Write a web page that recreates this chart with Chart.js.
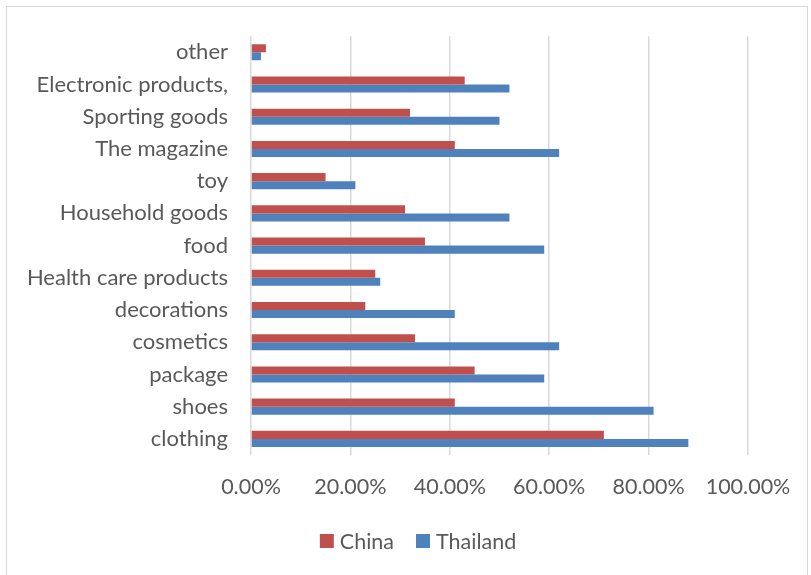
<!DOCTYPE html>
<html>
<head>
<meta charset="utf-8">
<script src="https://cdn.jsdelivr.net/npm/chart.js@4"></script>
<style>
  html, body { margin: 0; padding: 0; background: #fff; }
</style>
</head>
<body>
<canvas id="grafico" width="811" height="575"></canvas>
<script>
// categorías de arriba hacia abajo
const categorias = ["other", "Electronic products,", "Sporting goods", "The magazine", "toy",
  "Household goods", "food", "Health care products", "decorations", "cosmetics",
  "package", "shoes", "clothing"];
const china    = [3, 43, 32, 41, 15, 31, 35, 25, 23, 33, 45, 41, 71];
const thailand = [2, 52, 50, 62, 21, 52, 59, 26, 41, 62, 59, 81, 88];
const ticksX = [0, 20, 40, 60, 80, 100];

const FUENTE = "Lato, 'Open Sans', sans-serif";
const GRIS_TEXTO = "#595959";

// marco gris alrededor del gráfico
const marco = {
  id: "marco",
  beforeDraw(chart) {
    const ctx = chart.ctx;
    ctx.save();
    ctx.strokeStyle = "#d9d9d9";
    ctx.lineWidth = 1;
    ctx.strokeRect(6.5, 6.5, 801, 580);
    ctx.restore();
  }
};

// leyenda dibujada a mano, centrada bajo el eje X
const leyenda = {
  id: "leyenda",
  afterDraw(chart) {
    const ctx = chart.ctx;
    const caja = 14, sep = 6, entre = 22;
    const y = 541;
    ctx.save();
    ctx.font = "21.5px " + FUENTE;
    ctx.textBaseline = "middle";
    const items = chart.data.datasets.map(ds => ({
      texto: ds.label, color: ds.backgroundColor, ancho: ctx.measureText(ds.label).width
    }));
    const total = items.reduce((a, it) => a + caja + sep + it.ancho, 0) + entre * (items.length - 1);
    let x = 418 - total / 2;
    items.forEach(it => {
      ctx.fillStyle = it.color;
      ctx.fillRect(x, y - caja / 2, caja, caja);
      ctx.fillStyle = GRIS_TEXTO;
      ctx.fillText(it.texto, x + caja + sep, y + 1);
      x += caja + sep + it.ancho + entre;
    });
    ctx.restore();
  }
};

new Chart(document.getElementById("grafico"), {
  type: "bar",
  data: {
    labels: categorias,
    datasets: [
      { label: "China", data: china, backgroundColor: "#C0504D" },
      { label: "Thailand", data: thailand, backgroundColor: "#4F81BD" }
    ]
  },
  options: {
    indexAxis: "y",
    responsive: false,
    animation: false,
    devicePixelRatio: 1,
    datasets: { bar: { barPercentage: 1, categoryPercentage: 0.5 } },
    layout: { padding: { top: 36, right: 63, left: 0, bottom: 52 } },
    plugins: {
      legend: { display: false },
      tooltip: { enabled: false }
    },
    scales: {
      x: {
        min: 0,
        max: 100,
        afterBuildTicks(scale) { scale.ticks = ticksX.map(v => ({ value: v })); },
        afterFit(scale) { scale.height = 68; },
        border: { display: false },
        grid: { color: "#d9d9d9", lineWidth: 1.5, drawTicks: false },
        ticks: {
          padding: 19,
          color: GRIS_TEXTO,
          font: { family: FUENTE, size: 21.5 },
          callback: v => v.toFixed(2) + "%"
        }
      },
      y: {
        afterFit(scale) { scale.width = 251; },
        border: { display: false },
        grid: { display: false, drawTicks: false },
        ticks: {
          padding: 23,
          color: GRIS_TEXTO,
          font: { family: FUENTE, size: 22 }
        }
      }
    }
  },
  plugins: [marco, leyenda]
});
</script>
</body>
</html>
